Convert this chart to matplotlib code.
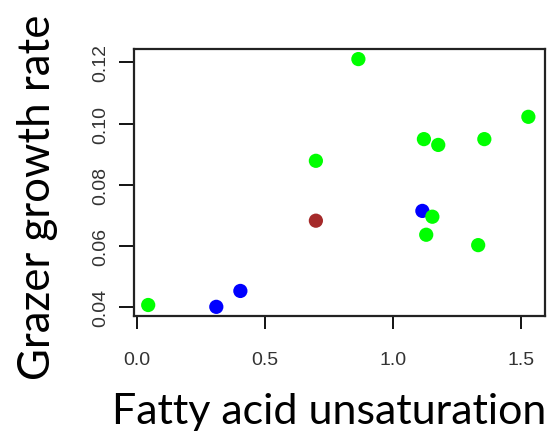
import numpy as np
import matplotlib
matplotlib.use("Agg")
import matplotlib.pyplot as plt

# 数据：脂肪酸不饱和度 vs 摄食者生长率
unsat = [0.045, 0.311, 0.405, 0.700, 0.700, 0.866, 1.122, 1.178, 1.358, 1.530,
         1.116, 1.155, 1.131, 1.334]
growth = [0.0406, 0.0400, 0.0452, 0.0878, 0.0682, 0.1211, 0.0949, 0.0930, 0.0949,
          0.1022, 0.0714, 0.0695, 0.0636, 0.0602]
colors = ["#00FF00", "#0000FF", "#0000FF", "#00FF00", "#A52A2A", "#00FF00", "#00FF00",
          "#00FF00", "#00FF00", "#00FF00", "#0000FF", "#00FF00", "#00FF00", "#00FF00"]
xticks = [0.0, 0.5, 1.0, 1.5]
yticks = [0.04, 0.06, 0.08, 0.10, 0.12]

fig = plt.figure(figsize=(5.54, 4.35), dpi=100)
ax = fig.add_axes([134 / 554, 118 / 435, 411 / 554, 267 / 435])

ax.scatter(unsat, growth, c=colors, s=105, linewidths=0, zorder=3)

ax.set_xlim(-0.0105, 1.595)
ax.set_ylim(0.037, 0.1244)
ax.set_xticks(xticks)
ax.set_xticklabels([f"{v:.1f}" for v in xticks], family="Liberation Sans", fontsize=14,
                   color="#333333")
ax.set_yticks(yticks)
ax.set_yticklabels([f"{v:.2f}" for v in yticks], family="Liberation Sans", fontsize=14,
                   rotation=90, va="center", color="#333333")

ax.tick_params(axis="x", direction="out", length=9.5, width=1.3, pad=16)
ax.tick_params(axis="y", direction="out", length=10.5, width=1.3, pad=7)
for sp in ax.spines.values():
    sp.set_linewidth(1.6)
    sp.set_color("#222222")

# 轴标题（大号字体）
fig.text(329 / 554, 1 - 412 / 435, "Fatty acid unsaturation", family="Lato",
         fontsize=31, ha="center", va="center")
fig.text(38 / 554, 1 - 197 / 435, "Grazer growth rate", family="Lato",
         fontsize=31.5, ha="center", va="center", rotation=90)

fig.savefig("out.png", dpi=100)
